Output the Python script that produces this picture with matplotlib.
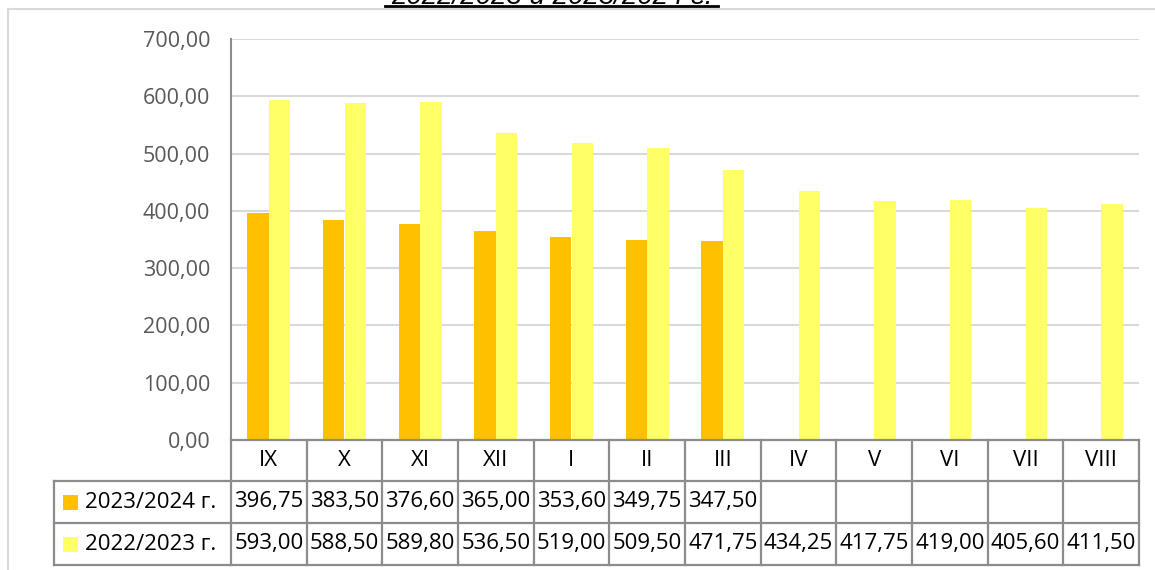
import matplotlib
matplotlib.use("Agg")
import matplotlib.pyplot as plt
from matplotlib.ticker import FuncFormatter, MultipleLocator
from matplotlib.lines import Line2D
from matplotlib.patches import Rectangle
import matplotlib.transforms as mtransforms

# ---- data ----
categories = ["IX", "X", "XI", "XII", "I", "II", "III", "IV", "V", "VI", "VII", "VIII"]
series_names = ["2023/2024 г.", "2022/2023 г."]
values_2023_24 = [396.75, 383.50, 376.60, 365.00, 353.60, 349.75, 347.50, None, None, None, None, None]
values_2022_23 = [593.00, 588.50, 589.80, 536.50, 519.00, 509.50, 471.75, 434.25, 417.75, 419.00, 405.60, 411.50]
title_text = "2022/2023 и 2023/2024 г."

colors = ["#FFC000", "#FFFF66"]
W, H = 1155, 570
plt.rcParams['font.family'] = ['Open Sans', 'DejaVu Sans']

fig = plt.figure(figsize=(W / 100, H / 100), dpi=100)

def fx(px):
    return px / W

def fy(py):
    return 1 - py / H

ax_left, ax_right, ax_top, ax_bottom = 231, 1139, 39, 440
ax = fig.add_axes([fx(ax_left), fy(ax_bottom), fx(ax_right - ax_left), fy(ax_top) - fy(ax_bottom)])

n = len(categories)
x = list(range(n))
bw = 0.28
off = 0.142
x1 = [i - off for i, v in zip(x, values_2023_24) if v is not None]
v1 = [v for v in values_2023_24 if v is not None]
ax.bar(x1, v1, width=bw, color=colors[0], zorder=3)
ax.bar([i + off for i in x], values_2022_23, width=bw, color=colors[1], zorder=3)

ax.set_xlim(-0.5, n - 0.5)
ax.set_ylim(0, 700)
ax.yaxis.set_major_locator(MultipleLocator(100))
ax.yaxis.set_major_formatter(FuncFormatter(lambda v, p: f"{v:.2f}".replace(".", ",")))
ax.grid(axis='y', color="#D9D9D9", linewidth=1.5, zorder=0)
ax.set_xticks([])
ax.tick_params(axis='y', length=0, pad=15, labelsize=15.5, labelcolor="#595959")
for s in ["top", "right", "bottom"]:
    ax.spines[s].set_visible(False)
ax.spines["left"].set_color("#8C8C8C")
ax.spines["left"].set_linewidth(1.5)

# ---- data table ----
tr = mtransforms.blended_transform_factory(ax.transData, fig.transFigure)
row_y = [440, 481, 523, 565]
leg_left = 54
lc = "#8C8C8C"
lw = 1.6
fig.add_artist(Line2D([-0.5, n - 0.5], [fy(row_y[0])] * 2, transform=tr, color=lc, lw=lw))
for ry in row_y[1:]:
    fig.add_artist(Line2D([fx(leg_left), fx(ax_right)], [fy(ry)] * 2, color=lc, lw=lw))
for b in range(n + 1):
    fig.add_artist(Line2D([b - 0.5, b - 0.5], [fy(row_y[0]), fy(row_y[3])], transform=tr, color=lc, lw=lw))
fig.add_artist(Line2D([fx(leg_left)] * 2, [fy(row_y[1]), fy(row_y[3])], color=lc, lw=lw))

tsize = 16
for i, c in enumerate(categories):
    fig.text(i, fy((row_y[0] + row_y[1]) / 2), c, transform=tr, ha='center', va='center', fontsize=tsize, color="black")
for r, (vals, name, col) in enumerate(zip([values_2023_24, values_2022_23], series_names, colors)):
    yc = fy((row_y[r + 1] + row_y[r + 2]) / 2)
    for i, v in enumerate(vals):
        if v is not None:
            fig.text(i, yc, f"{v:.2f}".replace(".", ","), transform=tr, ha='center', va='center',
                     fontsize=tsize, color="black")
    ypx = (row_y[r + 1] + row_y[r + 2]) / 2
    fig.add_artist(Rectangle((fx(63), fy(ypx + 7.5)), fx(15), fy(ypx - 7.5) - fy(ypx + 7.5), color=col, lw=0))
    fig.text(fx(85), yc, name, ha='left', va='center', fontsize=tsize, color="black")

# ---- chart border ----
fig.add_artist(Line2D([fx(8), 1.0], [fy(9), fy(9)], color="#D9D9D9", lw=1.5))
fig.add_artist(Line2D([fx(8), fx(8)], [fy(9), 0], color="#D9D9D9", lw=1.5))

# ---- title (cut at top, as in the reference) ----
fig.text(fx(552), fy(3.5), title_text, ha='center', va='baseline', fontsize=20, style='italic',
         family=['Liberation Sans', 'DejaVu Sans'], color="black")
fig.add_artist(Line2D([fx(385), fx(718)], [fy(6), fy(6)], color="black", lw=2))

fig.savefig("out.png", dpi=100)
